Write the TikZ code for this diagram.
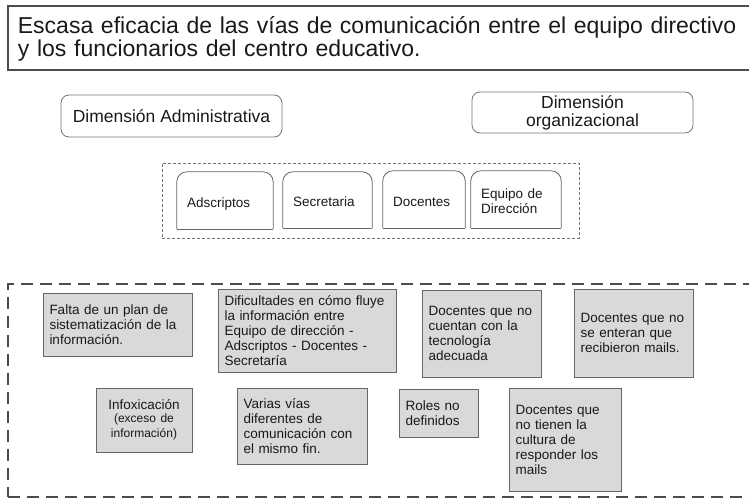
\documentclass[tikz,border=0pt]{standalone}
\usepackage{fontspec}
\setmainfont{Liberation Sans}
\begin{document}
\begin{tikzpicture}[x=1pt,y=-1pt]
\tikzset{titulo/.style={draw=black!70,line width=1.8pt,anchor=north west,inner xsep=8pt,inner ysep=0pt,align=left,text=black!90,font=\fontsize{23}{23}\selectfont}}
\tikzset{dimension/.style={draw=black!55,line width=0.8pt,rounded corners=8pt,align=center,inner sep=0pt,text=black!90,font=\fontsize{17.5}{18}\selectfont}}
\tikzset{pestana/.style={inner xsep=10pt,inner ysep=0pt,text height=13pt,text depth=0pt,align=left,text=black!90,font=\fontsize{13.5}{15}\selectfont}}
\tikzset{borde/.style={draw=black!60,line width=0.8pt}}
\tikzset{causa/.style={draw=black!60,fill=black!15,line width=0.8pt,inner xsep=6.5pt,inner ysep=0pt,align=left,text=black!90,font=\fontsize{13.5}{15}\selectfont}}
\path[use as bounding box,clip] (0,0) rectangle (749,500);
% problema
\node[titulo,minimum width=780pt,minimum height=64pt,text width=760pt,text height=17pt,text depth=25pt] (titulo) at (7,5)
  {Escasa eficacia de las vías de comunicación entre el equipo directivo\\y los funcionarios del centro educativo.};
% dimensiones
\node[dimension,minimum width=221pt,minimum height=42pt] (dimadm) at (171.5,116) {Dimensión Administrativa};
\node[dimension,minimum width=221pt,minimum height=41pt] (dimorg) at (582.5,112.5) {Dimensión\\organizacional};
% actores
\node[draw=black!55,line width=0.7pt,dash pattern=on 3pt off 2pt,minimum width=417pt,minimum height=75pt] (grupo) at (370.5,200.5) {};
\node[pestana,text width=76pt,minimum height=57pt] (adsc) at (225,200.5) {Adscriptos};
\node[pestana,text width=69pt,minimum height=56pt] (secr) at (327.5,200) {Secretaria};
\node[pestana,text width=62pt,minimum height=57pt] (doce) at (424,199.5) {Docentes};
\node[pestana,text width=70pt,minimum height=57pt,text height=10pt,text depth=13pt] (equi) at (516,199.5) {Equipo de\\Dirección};
\foreach \p in {adsc,secr,doce,equi}{
  \draw[borde,rounded corners=10pt] (\p.south west) -- (\p.north west) -- (\p.north east) -- (\p.south east);
  \draw[borde] (\p.south west) -- (\p.south east);
}
% causas
\node[draw=black!70,line width=1.8pt,dash pattern=on 12pt off 7pt,anchor=north west,minimum width=780pt,minimum height=213pt] (causas) at (7,283) {};
\node[causa,text width=136pt,minimum height=63pt] (falta) at (117.5,324.5) {Falta de un plan de\\sistematización de la\\información.};
\node[causa,text width=165pt,minimum height=83pt] (dific) at (307,330.5) {Dificultades en cómo fluye\\la información entre\\Equipo de dirección -\\Adscriptos - Docentes -\\Secretaría};
\node[causa,text width=106pt,minimum height=87pt] (tecno) at (481.5,333.5) {Docentes que no\\cuentan con la\\tecnología\\adecuada};
\node[causa,text width=106pt,minimum height=88pt] (mails) at (633.5,333) {Docentes que no\\se enteran que\\recibieron mails.};
\node[causa,text width=83pt,minimum height=64pt,align=center] (infox) at (144,420) {Infoxicación\\[-1pt]{\fontsize{12}{13.5}\selectfont(exceso de\\información)}};
\node[causa,text width=117pt,minimum height=76pt] (vias) at (302,426) {Varias vías\\diferentes de\\comunicación con\\el mismo fin.};
\node[causa,text width=66pt,minimum height=48pt] (roles) at (438.5,413) {Roles no\\definidos};
\node[causa,text width=99pt,minimum height=103pt] (cultura) at (565,439.5) {Docentes que\\no tienen la\\cultura de\\responder los\\mails};
\end{tikzpicture}
\end{document}
